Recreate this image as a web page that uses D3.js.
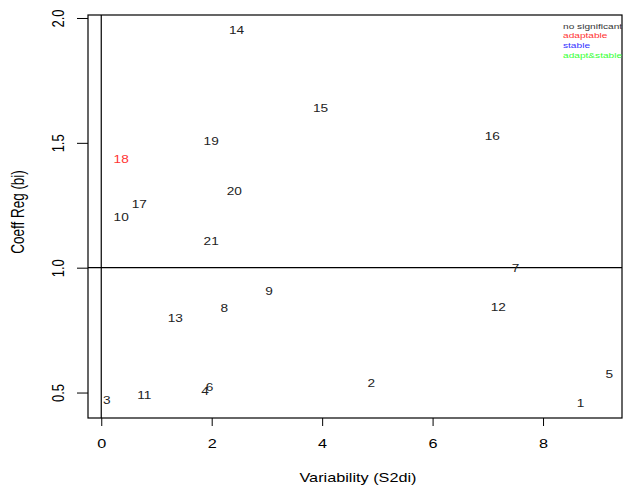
<!DOCTYPE html>
<html lang="en">
<head>
<meta charset="UTF-8">
<title>Stability plot</title>
<script src="https://cdn.jsdelivr.net/npm/d3@7"></script>
<style>
  body { margin: 0; background: #fff; }
  svg text { font-family: "Liberation Sans", Arial, sans-serif; }
</style>
</head>
<body>
<svg id="chart" width="623" height="491"></svg>
<script>
// genotype labels with S2di (x) and bi (y)
const genotypes = ["1","2","3","4","5","6","7","8","9","10","11","12","13","14","15","16","17","18","19","20","21"];
const s2di = [8.68, 4.89, 0.10, 1.88, 9.20, 1.96, 7.50, 2.23, 3.04, 0.36, 0.78, 7.19, 1.34, 2.45, 3.97, 7.08, 0.69, 0.36, 1.99, 2.41, 1.99];
const bi   = [0.455, 0.538, 0.468, 0.506, 0.574, 0.521, 0.999, 0.838, 0.907, 1.203, 0.490, 0.843, 0.798, 1.952, 1.640, 1.527, 1.253, 1.433, 1.508, 1.304, 1.104];
const group = ["ns","ns","ns","ns","ns","ns","ns","ns","ns","ns","ns","ns","ns","ns","ns","ns","ns","adaptable","ns","ns","ns"];

const legendLabels = ["no significant", "adaptable", "stable", "adapt&stable"];
const legendColors = ["#333333", "#ff3333", "#3333ff", "#33ff33"];
const groupColor = { ns: "#222222", adaptable: "#ff3333", stable: "#3333ff", both: "#33ff33" };

const xTicks = [0, 2, 4, 6, 8];
const yTicks = [0.5, 1.0, 1.5, 2.0];

// the picture is stretched sideways, text too
const sx = 1.3;

const svg = d3.select("#chart");
const mLeft = 88, mRight = 622, mTop = 15, mBottom = 418;

const x = d3.scaleLinear().domain([-0.24, 9.43]).range([mLeft, mRight]);
const y = d3.scaleLinear().domain([0.398, 2.012]).range([mBottom, mTop]);

// axes
const xAxis = svg.append("g")
    .attr("transform", `translate(0,${mBottom})`)
    .call(d3.axisBottom(x).tickValues(xTicks).tickSize(8).tickFormat(d3.format("d")));
const yAxis = svg.append("g")
    .attr("transform", `translate(${mLeft},0)`)
    .call(d3.axisLeft(y).tickValues(yTicks).tickSize(11).tickFormat(d3.format(".1f")));

xAxis.select(".domain").remove();
yAxis.select(".domain").remove();
svg.selectAll(".tick line").attr("stroke", "#000");

xAxis.selectAll(".tick text")
    .attr("font-size", 12.5).attr("fill", "#000")
    .attr("x", 0).attr("y", 0).attr("dy", "0.35em")
    .attr("transform", `translate(0,26) scale(${sx},1)`);

// R style: y tick labels parallel to the axis
yAxis.selectAll(".tick text")
    .attr("font-size", 13).attr("fill", "#000")
    .attr("text-anchor", "middle")
    .attr("x", 0).attr("y", 0).attr("dy", "0.35em")
    .attr("transform", `translate(-30,0) scale(${sx},1) rotate(-90)`);

// box
svg.append("rect")
    .attr("x", mLeft).attr("y", mTop)
    .attr("width", mRight - mLeft).attr("height", mBottom - mTop)
    .attr("fill", "none").attr("stroke", "#000").attr("stroke-width", 1.2);

// reference lines
svg.append("line")
    .attr("x1", x(0)).attr("x2", x(0)).attr("y1", mTop).attr("y2", mBottom)
    .attr("stroke", "#000").attr("stroke-width", 1.2);
svg.append("line")
    .attr("x1", mLeft).attr("x2", mRight).attr("y1", y(1)).attr("y2", y(1))
    .attr("stroke", "#000").attr("stroke-width", 1.2);

// titles
svg.append("text")
    .attr("transform", `translate(358,478) scale(${sx},1)`)
    .attr("text-anchor", "middle").attr("dy", "0.35em")
    .attr("font-size", 12.5).text("Variability (S2di)");
svg.append("text")
    .attr("transform", `translate(18,212) scale(${sx},1) rotate(-90)`)
    .attr("text-anchor", "middle").attr("dy", "0.35em")
    .attr("font-size", 13.5).text("Coeff Reg (bi)");

// point labels
svg.append("g").selectAll("text")
    .data(genotypes)
    .join("text")
    .attr("transform", (d, i) => `translate(${x(s2di[i])},${y(bi[i])}) scale(${sx},1)`)
    .attr("text-anchor", "middle")
    .attr("dy", "0.35em")
    .attr("font-size", 10.5)
    .attr("fill", (d, i) => groupColor[group[i]])
    .text(d => d);

// legend
svg.append("g").selectAll("text")
    .data(legendLabels)
    .join("text")
    .attr("transform", (d, i) => `translate(563,${26 + i * 9.6}) scale(${sx},1)`)
    .attr("dy", "0.35em")
    .attr("font-size", 7.8)
    .attr("fill", (d, i) => legendColors[i])
    .text(d => d);
</script>
</body>
</html>
